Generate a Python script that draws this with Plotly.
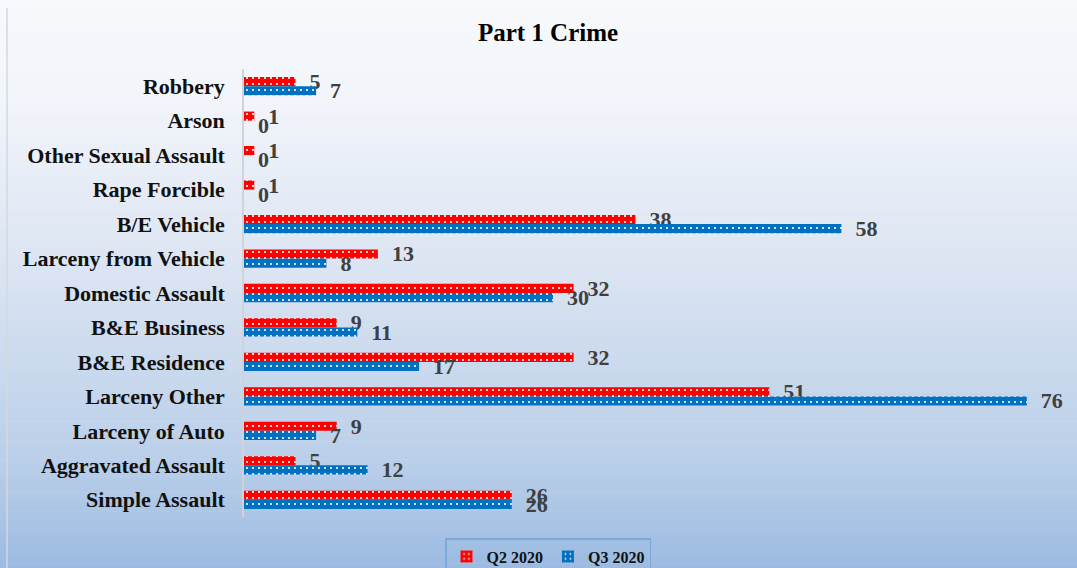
import plotly.graph_objects as go

# Part 1 crime counts by category, listed top to bottom
categories = [
    "Robbery", "Arson", "Other Sexual Assault", "Rape Forcible", "B/E Vehicle",
    "Larceny from Vehicle", "Domestic Assault", "B&E Business", "B&E Residence",
    "Larceny Other", "Larceny of Auto", "Aggravated Assault", "Simple Assault",
]
q2_2020 = [5, 1, 1, 1, 38, 13, 32, 9, 32, 51, 9, 5, 26]
q3_2020 = [7, 0, 0, 0, 58, 8, 30, 11, 17, 76, 7, 12, 26]

FONT = "Liberation Serif"
RED = "#FF0000"
BLUE = "#0070C0"

fig = go.Figure()
for name, vals, col in [("Q2 2020", q2_2020, RED), ("Q3 2020", q3_2020, BLUE)]:
    fig.add_trace(go.Bar(
        name=name, y=categories, x=vals, orientation="h",
        marker=dict(
            color=col, line=dict(width=0),
            pattern=dict(shape=".", fgcolor="white", bgcolor=col,
                         fillmode="replace", size=6, solidity=0.1),
        ),
        texttemplate="\u2002%{x}", textposition="outside",
        cliponaxis=False, constraintext="none",
        textfont=dict(family=FONT, size=22, color="#404040", weight="bold"),
    ))

# canvas and plot-area geometry (pixels)
W, H = 1077, 568
left_px, right_px, top_m, bot_m = 244, 9, 69, 51
plot_w = W - left_px - right_px
plot_h = H - top_m - bot_m

# vertical gradient background built from thin bands
stops = [(0.0, (247, 249, 252)), (0.19, (241, 244, 250)), (0.46, (220, 229, 242)),
         (0.81, (186, 207, 233)), (0.97, (160, 190, 227)), (1.0, (156, 187, 226))]

def color_at(t):
    for (t0, c0), (t1, c1) in zip(stops, stops[1:]):
        if t0 <= t <= t1:
            f = (t - t0) / (t1 - t0)
            return "rgb(%d,%d,%d)" % tuple(round(a + (b - a) * f) for a, b in zip(c0, c1))
    return "rgb(%d,%d,%d)" % stops[-1][1]

shapes = []
n = 120
for i in range(n):
    t = (i + 0.5) / n
    y_top_px = i * H / n
    y_bot_px = (i + 1) * H / n + 0.6
    shapes.append(dict(type="rect", xref="paper", yref="paper",
                       x0=-0.4, x1=1.1,
                       y0=(H - bot_m - y_bot_px) / plot_h,
                       y1=(H - bot_m - y_top_px) / plot_h,
                       line=dict(width=0), fillcolor=color_at(t), layer="below"))

# thin border at the left edge of the chart area
x_edge = (7 - left_px) / plot_w
shapes.append(dict(type="line", xref="paper", yref="paper",
                   x0=x_edge, x1=x_edge,
                   y0=(H - bot_m - 8) / plot_h, y1=(H - bot_m - H) / plot_h,
                   line=dict(color="#D3D8DF", width=1.5), layer="below"))

fig.update_layout(
    width=W, height=H,
    margin=dict(l=left_px, r=right_px, t=top_m, b=bot_m, autoexpand=False),
    paper_bgcolor="#F7F9FC", plot_bgcolor="rgba(0,0,0,0)",
    barmode="group", bargap=0.47, bargroupgap=0,
    title=dict(text="<b>Part 1 Crime</b>", x=548 / W, xref="container", xanchor="center",
               y=1 - 32 / H, yref="container", yanchor="middle",
               font=dict(family=FONT, size=25, color="#000000")),
    xaxis=dict(range=[0, 80], visible=False, fixedrange=True),
    yaxis=dict(autorange="reversed", showgrid=False, zeroline=False,
               showline=True, linecolor="#D0D4DA", linewidth=1.5,
               ticks="", ticklabelstandoff=13,
               tickfont=dict(family=FONT, size=22, color="#111111", weight="bold")),
    legend=dict(orientation="h", x=548 / W, xref="container", xanchor="center",
                y=1 - 538 / H, yref="container", yanchor="top",
                font=dict(family=FONT, size=16, color="#111111", weight="bold"),
                bordercolor="#7FA7D8", borderwidth=1.5, bgcolor="rgba(0,0,0,0)",
                itemwidth=30, tracegroupgap=0, itemsizing="constant"),
    shapes=shapes,
)

fig.write_html("out.html")
